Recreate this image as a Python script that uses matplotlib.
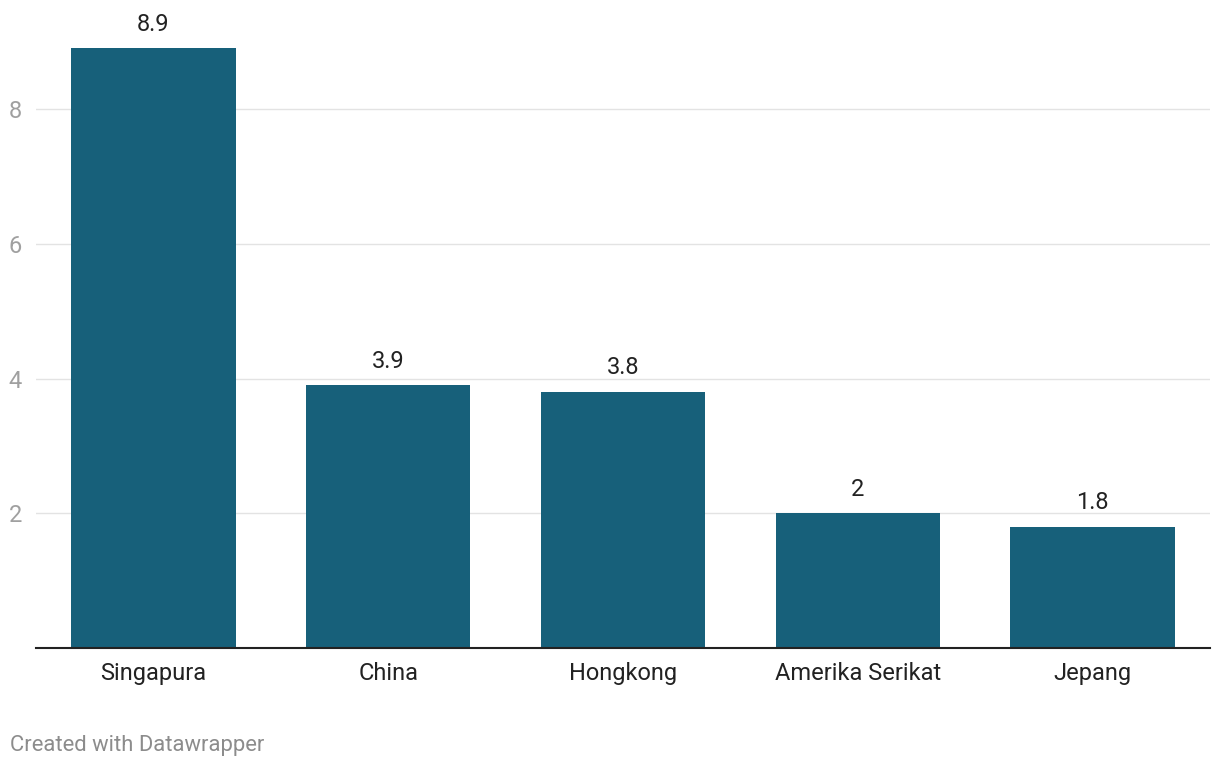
import numpy as np
import matplotlib.pyplot as plt

plt.rcParams['font.family'] = ['Roboto', 'DejaVu Sans']

countries = ['Singapura', 'China', 'Hongkong', 'Amerika Serikat', 'Jepang']
values = [8.9, 3.9, 3.8, 2, 1.8]
value_labels = ['8.9', '3.9', '3.8', '2', '1.8']
yticks = [2, 4, 6, 8]

W, H = 1220, 768
fig = plt.figure(figsize=(W / 100, H / 100), dpi=100)
# axes: x 36..1210 px, y 0 at 648 px, 67.375 px per unit
ymax = 9.4
top_px = 648 - ymax * 67.375
ax = fig.add_axes([36 / W, 1 - 648 / H, (1210 - 36) / W, (648 - top_px) / H])

x = np.arange(len(countries))
ax.bar(x, values, width=0.7, color='#17607a', zorder=3)
for xi, v, lab in zip(x, values, value_labels):
    ax.annotate(lab, (xi, v), xytext=(0, 9), textcoords='offset points',
                ha='center', va='bottom', fontsize=17, color='#222222')

ax.set_xlim(-0.5, 4.5)
ax.set_ylim(0, ymax)
ax.set_yticks(yticks)
ax.set_yticklabels([str(t) for t in yticks])
ax.grid(axis='y', color='#e3e3e3', linewidth=1, zorder=0)
ax.tick_params(axis='y', length=0, pad=10, labelsize=17, labelcolor='#a0a0a0')
ax.set_xticks(x)
ax.set_xticklabels(countries)
ax.tick_params(axis='x', length=0, pad=10, labelsize=17, labelcolor='#222222')
for s in ['top', 'right', 'left']:
    ax.spines[s].set_visible(False)
ax.spines['bottom'].set_color('#222222')
ax.spines['bottom'].set_linewidth(1.5)
ax.spines['bottom'].set_zorder(4)

fig.text(10 / W, 1 - 745 / H, 'Created with Datawrapper', fontsize=15.8,
         color='#8c8c8c', ha='left', va='center')

fig.savefig('out.png', dpi=100, facecolor='white')
